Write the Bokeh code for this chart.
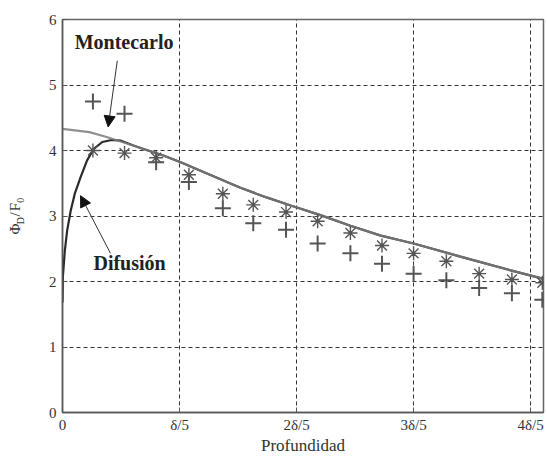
from math import pi
from bokeh.plotting import figure
from bokeh.layouts import row
from bokeh.models import Range1d, FixedTicker, Label, Arrow, NormalHead
from bokeh.embed import file_html
from bokeh.resources import INLINE

# ---- data (depth in units of delta/5) ----
mc_x = [0, 0.23, 0.37, 0.51, 0.68, 0.85, 1.01, 1.18, 1.35, 1.52, 1.75, 1.95,
        2.21, 2.46, 2.72, 3.0, 3.4, 3.83, 4.11]
mc_y = [4.33, 4.28, 4.21, 4.13, 4.03, 3.93, 3.82, 3.69, 3.56, 3.43, 3.28, 3.16,
        3.01, 2.85, 2.70, 2.58, 2.38, 2.17, 2.04]

dif_x = [0.0, 0.003, 0.02, 0.04, 0.07, 0.105, 0.154, 0.21, 0.27, 0.34, 0.42, 0.50,
         0.60, 0.68, 0.85, 1.01, 1.18, 1.35, 1.52, 1.75, 1.95, 2.21, 2.46, 2.72,
         3.0, 3.4, 3.83, 4.11]
dif_y = [1.68, 2.07, 2.47, 2.78, 3.08, 3.34, 3.59, 3.85, 4.03, 4.13, 4.16, 4.15,
         4.08, 4.03, 3.93, 3.82, 3.69, 3.56, 3.43, 3.28, 3.16, 3.01, 2.85, 2.70,
         2.58, 2.38, 2.17, 2.04]

pts_x = [0.26, 0.53, 0.80, 1.08, 1.37, 1.63, 1.91, 2.18, 2.46, 2.73, 3.00, 3.28,
         3.56, 3.84, 4.10]
star_y = [4.0, 3.96, 3.89, 3.63, 3.34, 3.17, 3.06, 2.92, 2.74, 2.55, 2.43, 2.31,
          2.12, 2.03, 1.98]
plus_y = [4.75, 4.56, 3.82, 3.52, 3.12, 2.89, 2.79, 2.58, 2.43, 2.27, 2.12, 2.02,
          1.90, 1.82, 1.72]

x_tick_values = [0, 1, 2, 3, 4]
x_tick_labels = ["0", "\u03b4/5", "2\u03b4/5", "3\u03b4/5", "4\u03b4/5"]
y_tick_values = [0, 1, 2, 3, 4, 5, 6]

SERIF = "Liberation Serif"
LABEL_W = 32

# ---- narrow strip holding the rotated y-axis title  Phi_D / F_0 ----
lab = figure(width=LABEL_W, height=457, output_backend="svg", toolbar_location=None,
             x_range=Range1d(0, LABEL_W), y_range=Range1d(0, 457),
             x_axis_type=None, y_axis_type=None,
             min_border_left=0, min_border_right=0, min_border_top=0, min_border_bottom=0)
lab.outline_line_color = None
lab.grid.visible = False
ylab = [("\u03a6", 14, 207, "15px"), ("D", 20, 219, "10px"),
        ("/", 14, 228, "15px"), ("F", 14, 234, "15px"),
        ("0", 20, 244, "10px")]
for t, lx, ly, fs in ylab:
    lab.add_layout(Label(x=lx, y=ly, text=t, angle=pi / 2, text_font=SERIF,
                         text_font_size=fs, text_align="left",
                         text_baseline="middle", text_color="#333333"))

# ---- main plot ----
p = figure(width=547 - LABEL_W, height=457, output_backend="svg", toolbar_location=None,
           x_range=Range1d(0, 4.11), y_range=Range1d(0, 6),
           min_border_left=62 - LABEL_W, min_border_right=4, min_border_top=19,
           min_border_bottom=45)
p.background_fill_color = "white"
p.border_fill_color = "white"
p.outline_line_color = "#666666"
p.outline_line_width = 1.5

for ax in (p.xaxis[0], p.yaxis[0]):
    ax.axis_line_color = "#555555"
    ax.axis_line_width = 1.5
    ax.major_tick_in = 5
    ax.major_tick_out = 0
    ax.minor_tick_line_color = None
    ax.major_tick_line_color = "#555555"
    ax.major_label_text_font = SERIF
    ax.major_label_text_font_size = "15px"
    ax.major_label_text_color = "#333333"

p.xaxis.ticker = FixedTicker(ticks=x_tick_values)
p.xaxis.major_label_overrides = {v: s for v, s in zip(x_tick_values, x_tick_labels)}
p.xaxis.major_label_standoff = 4
p.xaxis.axis_label = "Profundidad"
p.xaxis.axis_label_text_font = SERIF
p.xaxis.axis_label_text_font_size = "17px"
p.xaxis.axis_label_text_font_style = "normal"
p.xaxis.axis_label_text_color = "#333333"
p.xaxis.axis_label_standoff = 0
p.yaxis.ticker = FixedTicker(ticks=y_tick_values)
p.yaxis.major_label_standoff = 6

p.xgrid.ticker = FixedTicker(ticks=x_tick_values)
p.ygrid.ticker = FixedTicker(ticks=y_tick_values)
for g in (p.xgrid[0], p.ygrid[0]):
    g.grid_line_color = "#333333"
    g.grid_line_dash = "4 3"
    g.grid_line_width = 1

# curves
p.line(dif_x, dif_y, line_color="#2a2a2a", line_width=2.2)
p.line(mc_x, mc_y, line_color="#7d7d7d", line_width=2.2, line_alpha=0.85)

# markers
p.scatter(pts_x, star_y, marker="asterisk", size=14, line_color="#555555", line_width=1.4)
p.scatter(pts_x, plus_y, marker="cross", size=16, line_color="#555555", line_width=2)

# annotations
p.add_layout(Label(x=0.526, y=5.65, text="Montecarlo", text_font=SERIF,
                   text_font_style="bold", text_font_size="20px",
                   text_align="center", text_baseline="middle", text_color="#222222"))
p.add_layout(Label(x=0.573, y=2.29, text="Difusi\u00f3n", text_font=SERIF,
                   text_font_style="bold", text_font_size="20px",
                   text_align="center", text_baseline="middle", text_color="#222222"))

p.add_layout(Arrow(x_start=0.468, y_start=5.37, x_end=0.39, y_end=4.36,
                   line_color="#333333", line_width=1,
                   end=NormalHead(size=11, fill_color="#111111", line_color="#111111")))
p.add_layout(Arrow(x_start=0.41, y_start=2.43, x_end=0.154, y_end=3.31,
                   line_color="#333333", line_width=1,
                   end=NormalHead(size=11, fill_color="#111111", line_color="#111111")))

layout = row(lab, p, spacing=0)
open("out.html", "w").write(file_html(layout, INLINE))
